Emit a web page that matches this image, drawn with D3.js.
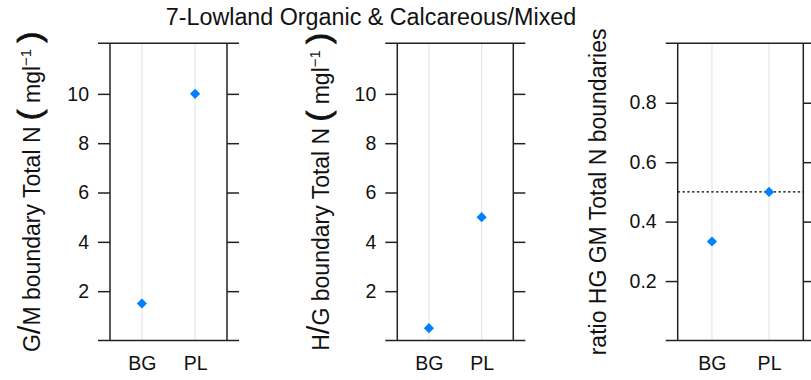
<!DOCTYPE html>
<html>
<head>
<meta charset="utf-8">
<script src="https://cdn.jsdelivr.net/npm/d3@7"></script>
<style>
  body { margin: 0; background: #fff; }
  svg { display: block; }
  text { font-family: "Liberation Sans", Arial, sans-serif; fill: #111; }
</style>
</head>
<body>
<svg id="chart" width="811" height="380"></svg>
<script>
// Boundary values for Lowland Organic & Calcareous/Mixed lakes
const categories = ["BG", "PL"];
const gmBoundary = [1.5, 10];     // G/M boundary Total N (mg/l)
const hgBoundary = [0.5, 5];      // H/G boundary Total N (mg/l)
const ratioHgGm = [0.333, 0.5];   // ratio HG / GM
const nTicks = [2, 4, 6, 8, 10];
const ratioTicks = [0.2, 0.4, 0.6, 0.8];
const ratioReference = 0.5;
const chartTitle = "7-Lowland Organic & Calcareous/Mixed";

const svg = d3.select("#chart");
const panelTop = 43.3, panelBottom = 340.5, tickLen = 12;

svg.append("text")
  .attr("x", 371).attr("y", 25)
  .attr("text-anchor", "middle")
  .style("font-size", "23.3px")
  .text(chartTitle);

// label pieces: plain text, enlarged glyphs and a superscript
const nLabel = lead => [
  { t: lead[0] }, { t: "/", size: 1.35 }, { t: lead[1] + " boundary Total N " },
  { t: "(", size: 1.4, heavy: true }, { t: " mgl" }, { t: "\u22121", sup: true },
  { t: " ", down: true }, { t: ")", size: 1.4, heavy: true }
];

const panels = [
  { left: 110, right: 227, domain: [0, 12.05], ticks: nTicks, values: gmBoundary,
    label: nLabel(["G", "M"]), labelX: 40, fmt: d3.format("d") },
  { left: 397.3, right: 513.3, domain: [0, 12.05], ticks: nTicks, values: hgBoundary,
    label: nLabel(["H", "G"]), labelX: 329, fmt: d3.format("d") },
  { left: 677.7, right: 803.3, domain: [0, 1], ticks: ratioTicks, values: ratioHgGm,
    label: [{ t: "ratio HG GM Total N boundaries" }], labelX: 606, fmt: d3.format(".1f"),
    ref: ratioReference }
];

panels.forEach(p => {
  const g = svg.append("g");
  const x = d3.scalePoint().domain(categories).range([p.left, p.right]).padding(0.6);
  const y = d3.scaleLinear().domain(p.domain).range([panelBottom, panelTop]);

  // vertical reference lines at each category
  g.selectAll("line.grid").data(categories).join("line")
    .attr("class", "grid")
    .attr("x1", d => x(d)).attr("x2", d => x(d))
    .attr("y1", panelTop).attr("y2", panelBottom)
    .attr("stroke", "#e6e6e6").attr("stroke-width", 1.2);

  if (p.ref !== undefined) {
    g.append("line")
      .attr("x1", p.left).attr("x2", p.right)
      .attr("y1", y(p.ref)).attr("y2", y(p.ref))
      .attr("stroke", "#000").attr("stroke-width", 1.4)
      .attr("stroke-dasharray", "2.4,2.4");
  }

  // left axis with labels, right axis ticks only; domain ends drawn as full-width rules
  const edgeTicks = [p.domain[0], p.domain[1]];
  const leftAxis = d3.axisLeft(y).tickValues(p.ticks).tickSize(tickLen).tickPadding(9)
    .tickFormat(p.fmt);
  const la = g.append("g").attr("transform", `translate(${p.left},0)`).call(leftAxis);
  la.select(".domain").remove();
  la.selectAll("line").attr("stroke", "#222").attr("stroke-width", 1.5);
  la.selectAll("text").style("font-size", "19.5px").attr("fill", "#111");

  const ra = g.append("g").attr("transform", `translate(${p.right},0)`)
    .call(d3.axisRight(y).tickValues(p.ticks).tickSize(tickLen).tickFormat(""));
  ra.select(".domain").remove();
  ra.selectAll("line").attr("stroke", "#222").attr("stroke-width", 1.5);

  g.selectAll("line.edge").data(edgeTicks).join("line")
    .attr("class", "edge")
    .attr("x1", p.left - tickLen).attr("x2", p.right + tickLen)
    .attr("y1", d => y(d)).attr("y2", d => y(d))
    .attr("stroke", "#222").attr("stroke-width", 1.5);

  g.append("line").attr("x1", p.left).attr("x2", p.left).attr("y1", panelTop).attr("y2", panelBottom)
    .attr("stroke", "#222").attr("stroke-width", 1.5);
  g.append("line").attr("x1", p.right).attr("x2", p.right).attr("y1", panelTop).attr("y2", panelBottom)
    .attr("stroke", "#222").attr("stroke-width", 1.5);

  // category labels
  const xa = g.append("g").attr("transform", `translate(0,${panelBottom})`)
    .call(d3.axisBottom(x).tickSize(0).tickPadding(16));
  xa.select(".domain").remove();
  xa.selectAll("text").style("font-size", "19.5px").attr("fill", "#111");

  // diamonds
  g.selectAll("path.pt").data(p.values).join("path")
    .attr("class", "pt")
    .attr("d", d3.symbol(d3.symbolDiamond2, 66))
    .attr("transform", (d, i) => `translate(${x(categories[i])},${y(d)})`)
    .attr("fill", "#0080ff");

  // rotated y label
  const lab = svg.append("text")
    .attr("transform", `translate(${p.labelX},${(panelTop + panelBottom) / 2}) rotate(-90)`)
    .attr("text-anchor", "middle")
    .style("font-size", "23px");
  p.label.forEach(part => {
    const ts = lab.append("tspan").text(part.t);
    if (part.size) ts.style("font-size", (23 * part.size) + "px");
    if (part.heavy) ts.attr("stroke", "#111").attr("stroke-width", 0.9);
    if (part.sup) ts.style("font-size", "15px").attr("dy", "-9");
    if (part.down) ts.attr("dy", "9");
  });
});
</script>
</body>
</html>
